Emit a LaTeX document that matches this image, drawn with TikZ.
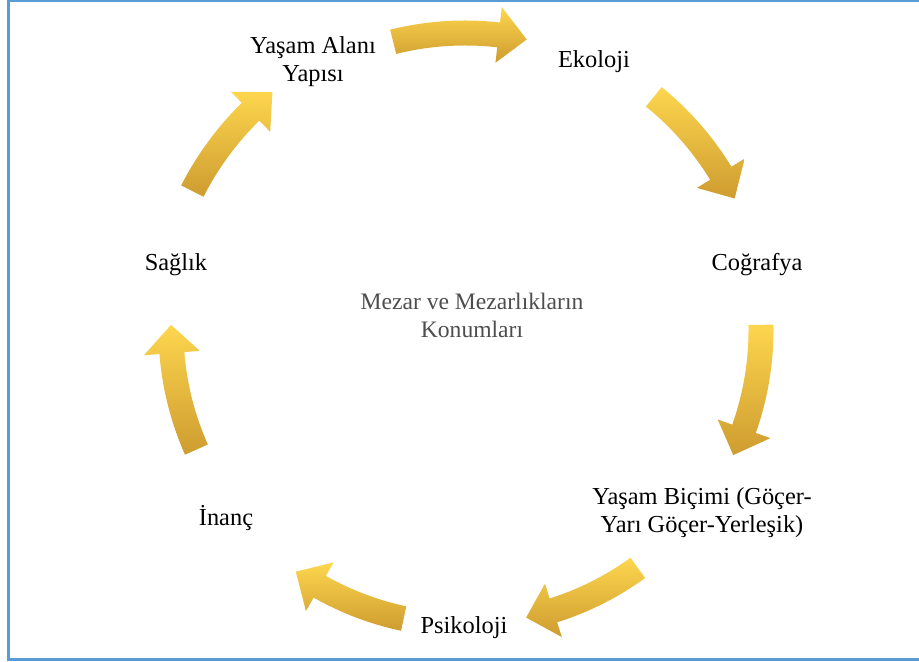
\documentclass[tikz,border=0pt]{standalone}
\usepackage{fontspec}
\setmainfont{Liberation Serif}
\usetikzlibrary{calc}
\definecolor{framebl}{HTML}{5B9BD5}
\definecolor{goldlt}{HTML}{FDD64E}
\definecolor{golddk}{HTML}{CE9C30}
\definecolor{midgray}{HTML}{4D4D4D}
\tikzset{
  lbl/.style={font=\fontsize{12.2}{14}\selectfont,align=center,inner sep=0pt},
  midlbl/.style={lbl,text=midgray,font=\fontsize{11.8}{14}\selectfont},
  bandarrow/.style={top color=goldlt,bottom color=golddk,draw=none}
}
% start angle, head base angle, tip angle, radius
\newcommand\cyclearrow[4]{%
  \shade[bandarrow] ($(ctr)+(#1:#4+12.5)$) arc[start angle=#1,end angle=#2,radius={(#4+12.5)*0.5pt}]
    -- ($(ctr)+(#2:#4+28)$) -- ($(ctr)+(#3:#4)$) -- ($(ctr)+(#2:#4-28)$)
    -- ($(ctr)+(#2:#4-12.5)$) arc[start angle=#2,end angle=#1,radius={(#4-12.5)*0.5pt}] -- cycle;}

\begin{document}
\begin{tikzpicture}[x=0.5pt,y=0.5pt]
\useasboundingbox (0,0) rectangle (919,662);
\draw[framebl,line width=1.5pt] (925,661) -- (8,661) -- (8,2) -- (925,2);
\coordinate (ctr) at (465,332);

\node[lbl] (yasamalani) at (313,600) {Yaşam Alanı\\Yapısı};
\node[lbl] (ekoloji) at (594,600) {Ekoloji};
\node[lbl] (cografya) at (757,397) {Coğrafya};
\node[lbl] (yasambicimi) at (702,149) {Yaşam Biçimi (Göçer-\\Yarı Göçer-Yerleşik)};
\node[lbl] (psikoloji) at (464,34) {Psikoloji};
\node[lbl] (inanc) at (226,144) {İnanç};
\node[lbl] (saglik) at (176,397) {Sağlık};
\node[midlbl] (konum) at (472,347) {Mezar ve Mezarlıkların\\Konumları};

\cyclearrow{104}{83.5}{78}{297}
\cyclearrow{51}{31.5}{26}{300}
\cyclearrow{1}{-19.5}{-25}{296}
\cyclearrow{-54}{-72.5}{-78}{294}
\cyclearrow{-102}{-119.5}{-125}{295}
\cyclearrow{204}{184.5}{179}{294}
\cyclearrow{153}{134.5}{129}{306}
\end{tikzpicture}
\end{document}
